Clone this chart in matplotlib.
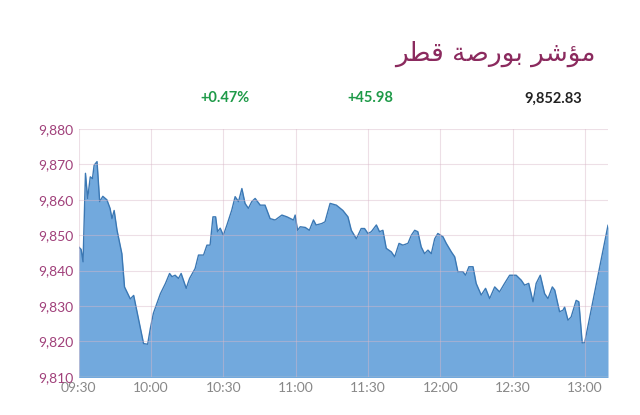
import matplotlib.pyplot as plt
import numpy as np

# minutes after 09:30 and index value
minutes = [0, 1, 1.8, 2.8, 3.7, 4.8, 5.7, 6.4, 7.6, 8.7, 10, 11.7, 13, 13.8, 14.7, 15.9,
           17.9, 19, 21.4, 22.8, 24.9, 26.9, 28.6, 29.7, 31, 33.9, 36, 37.7, 38.7, 40,
           41.4, 42.5, 44.6, 46, 48.3, 49.7, 51.8, 53.2, 54.5, 55.7, 56.8, 57.6, 58.7,
           60, 61.5, 63.5, 64.9, 66.3, 67.7, 69, 70.4, 71.8, 73.2, 75.3, 77.3, 79.4,
           81.5, 82.9, 84.3, 86.4, 89.1, 89.8, 90.8, 91.9, 94, 95.7, 97.4, 98.5, 100.8,
           102.2, 104.3, 106.9, 109.6, 111.7, 113.1, 115.2, 117.2, 118.6, 120, 121.4,
           123.5, 124.8, 126.2, 127.6, 129.7, 131.1, 132.9, 134.5, 136.6, 138, 139.4,
           140.7, 142.1, 143.5, 144.9, 146.3, 147.7, 149, 151.1, 152.5, 154.6, 156,
           157.3, 159.4, 160.5, 161.9, 163.6, 164.9, 167, 168.8, 170.5, 172.6, 174.6,
           176.7, 178.8, 181.5, 183.6, 185, 186.7, 188.5, 189.8, 191.5, 193.3, 194.7,
           196.5, 197.5, 199.5, 200.9, 201.6, 203, 204.3, 206.4, 207.5, 208.9, 209.9,
           219.6]
values = [9846.7, 9846, 9842.5, 9867.5, 9860.4, 9866.5, 9866, 9869.8, 9870.8, 9859.5,
          9861, 9860, 9857.6, 9854.7, 9857, 9851.4, 9844.8, 9835.4, 9832, 9833, 9826,
          9819.4, 9819.2, 9823.6, 9828, 9833.5, 9836.4, 9839.2, 9838.3, 9838.7, 9837.8,
          9839.2, 9835, 9837.8, 9840.6, 9844.4, 9844.4, 9847.2, 9847.2, 9855.2, 9855.2,
          9851, 9852, 9850, 9852.9, 9857.1, 9860.9, 9859.5, 9863.2, 9859, 9857.6,
          9859.5, 9860.4, 9858.5, 9858.5, 9854.7, 9854.3, 9855, 9855.7, 9855.2, 9854.3,
          9855.7, 9851.4, 9852.4, 9852.2, 9851.4, 9854.3, 9852.9, 9853.3, 9853.8, 9859,
          9858.5, 9857, 9855.2, 9851.4, 9849, 9851.9, 9851.9, 9850.5, 9851, 9852.9,
          9851, 9851.4, 9846.3, 9845.3, 9843.9, 9847.7, 9847.2, 9847.7, 9850, 9851.4,
          9851, 9846.7, 9844.8, 9845.8, 9844.8, 9849, 9850.5, 9849.6, 9847.7, 9845.3,
          9843.9, 9839.7, 9839.7, 9838.7, 9841.1, 9841.1, 9836.4, 9833.1, 9835, 9832.1,
          9835.4, 9834, 9836.4, 9838.7, 9838.7, 9837.3, 9835.9, 9836.4, 9831.2, 9836.4,
          9838.7, 9833.5, 9832.1, 9835.4, 9834.5, 9828.4, 9828.8, 9829.7, 9826, 9826.9,
          9831.6, 9831.2, 9819.6, 9819.6, 9852.8]

tick_pos = [0, 30, 60, 90, 120, 150, 180, 210]
tick_labels = ["09:30", "10:00", "10:30", "11:00", "11:30", "12:00", "12:30", "13:00"]
y_ticks = [9810, 9820, 9830, 9840, 9850, 9860, 9870, 9880]

# "مؤشر بورصة قطر" in presentation forms, visual order (no shaping in matplotlib)
title = "\uFEAE\uFEC4\uFED7 \uFE94\uFEBB\uFEAD\uFEEE\uFE91 \uFEAE\uFEB7\uFE86\uFEE3"
change_pct = "+0.47%"
change_pts = "+45.98"
last_value = "9,852.83"

fig = plt.figure(figsize=(6.4, 4.15), dpi=100)
ax = fig.add_axes([0.123, 0.092, 0.827, 0.597])

ax.fill_between(minutes, values, 9800, color="#72a9dd", lw=0)
ax.plot(minutes, values, color="#3b78b4", lw=1)
ax.set_xlim(0, 219.6)
ax.set_ylim(9810, 9880)
ax.set_xticks(tick_pos)
ax.set_xticklabels(tick_labels, color="#888888", fontsize=10, family="Lato")
ax.set_yticks(y_ticks)
ax.set_yticklabels([f"{v:,}" for v in y_ticks], color="#a0407a", fontsize=10, family="Lato")
ax.tick_params(length=0, pad=4)
ax.grid(True, color="#d9b8c8", lw=0.8, alpha=0.45)
ax.set_axisbelow(False)
for s in ax.spines.values():
    s.set_visible(False)
ax.axhline(9810, color="#cccccc", lw=1)

fig.text(0.93, 0.87, title, ha="right", va="center", fontsize=19,
         color="#8b2a5e", family="DejaVu Sans")
fig.text(0.352, 0.763, change_pct, ha="center", va="center", fontsize=10.5,
         color="#1e9a48", weight="bold", family="Lato")
fig.text(0.578, 0.763, change_pts, ha="center", va="center", fontsize=10.5,
         color="#1e9a48", weight="bold", family="Lato")
fig.text(0.91, 0.763, last_value, ha="right", va="center", fontsize=10.5,
         color="#222222", weight="bold", family="Lato")

fig.savefig("out.png", dpi=100)
